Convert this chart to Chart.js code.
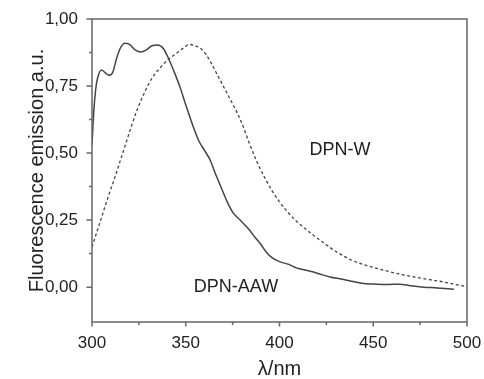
<!DOCTYPE html>
<html>
<head>
<meta charset="utf-8">
<script src="https://cdn.jsdelivr.net/npm/chart.js@4.4.1/dist/chart.umd.min.js"></script>
<style>
  html, body { margin: 0; padding: 0; background: #fff; }
  #wrap { width: 484px; height: 379px; position: relative; }
</style>
</head>
<body>
<div id="wrap"><canvas id="c"></canvas></div>
<script>
// wavelength (nm) and emission values
const aawWavelength = [300, 301, 302, 303, 305, 307, 309, 311, 313, 315, 317.5, 320, 323, 326, 329, 332, 335, 338, 341, 344, 347, 350, 354, 357, 360, 363, 366, 369, 372, 375, 379, 384, 387, 390, 393, 396, 400, 405, 409, 413, 417, 421, 427, 433, 440, 446, 452, 458, 464, 470, 477, 484, 493];
const aawEmission = [0.53, 0.66, 0.74, 0.78, 0.81, 0.80, 0.79, 0.80, 0.85, 0.89, 0.91, 0.905, 0.885, 0.877, 0.885, 0.90, 0.903, 0.89, 0.85, 0.80, 0.745, 0.68, 0.598, 0.545, 0.51, 0.474, 0.42, 0.37, 0.32, 0.28, 0.25, 0.213, 0.185, 0.16, 0.13, 0.11, 0.095, 0.085, 0.072, 0.065, 0.058, 0.05, 0.038, 0.03, 0.02, 0.013, 0.011, 0.01, 0.011, 0.005, 0.0, -0.003, -0.008];

const wWavelength = [300, 303, 306, 309, 312, 315, 318, 321, 324, 327, 330, 333, 336, 340, 345, 349, 352, 355, 358, 361, 364, 367, 370, 373, 376, 380, 384, 388, 392, 396, 400, 404, 408, 412, 416, 420, 425, 429, 434, 438, 445, 452, 459, 466, 473, 480, 487, 493, 500];
const wEmission = [0.15, 0.215, 0.28, 0.345, 0.405, 0.47, 0.535, 0.60, 0.66, 0.71, 0.755, 0.79, 0.815, 0.845, 0.872, 0.893, 0.905, 0.90, 0.89, 0.866, 0.83, 0.79, 0.75, 0.71, 0.67, 0.61, 0.535, 0.467, 0.41, 0.36, 0.318, 0.283, 0.253, 0.228, 0.205, 0.183, 0.158, 0.138, 0.117, 0.102, 0.084, 0.07, 0.057, 0.046, 0.037, 0.028, 0.02, 0.011, 0.002];

const xMajorTicks = [300, 350, 400, 450, 500];
const xMinorTicks = [325, 375, 425, 475];
const yMajorTicks = [0, 0.25, 0.5, 0.75, 1.0];
const yMinorTicks = [0.125, 0.375, 0.625, 0.875];

const AXIS_COLOR = '#666';
const TEXT_COLOR = '#222';
const FONT = 'Liberation Sans, Arial, Helvetica, sans-serif';

const toPoints = (xs, ys) => xs.map((x, i) => ({ x, y: ys[i] }));

// frame + ticks drawn by hand so majors and minors get different lengths
const framePlugin = {
  id: 'frame',
  afterDraw(chart) {
    const { ctx, chartArea: a, scales: { x, y } } = chart;
    ctx.save();
    ctx.strokeStyle = AXIS_COLOR;
    ctx.lineWidth = 1.5;
    ctx.strokeRect(a.left, a.top, a.right - a.left, a.bottom - a.top);
    ctx.beginPath();
    xMajorTicks.forEach(v => { const px = x.getPixelForValue(v); ctx.moveTo(px, a.bottom); ctx.lineTo(px, a.bottom + 4.5); });
    xMinorTicks.forEach(v => { const px = x.getPixelForValue(v); ctx.moveTo(px, a.bottom); ctx.lineTo(px, a.bottom + 3); });
    yMajorTicks.forEach(v => { const py = y.getPixelForValue(v); ctx.moveTo(a.left, py); ctx.lineTo(a.left - 5.5, py); });
    yMinorTicks.forEach(v => { const py = y.getPixelForValue(v); ctx.moveTo(a.left, py); ctx.lineTo(a.left - 3, py); });
    ctx.stroke();

    // curve labels
    ctx.fillStyle = TEXT_COLOR;
    ctx.font = '18px ' + FONT;
    ctx.textAlign = 'center';
    ctx.textBaseline = 'middle';
    ctx.fillText('DPN-W', x.getPixelForValue(432.3), y.getPixelForValue(0.511));
    ctx.fillText('DPN-AAW', x.getPixelForValue(376.8), y.getPixelForValue(0.0));
    ctx.restore();
  }
};

new Chart(document.getElementById('c'), {
  type: 'line',
  data: {
    datasets: [
      {
        label: 'DPN-AAW',
        data: toPoints(aawWavelength, aawEmission),
        borderColor: '#444',
        borderWidth: 1.5,
        pointRadius: 0,
        cubicInterpolationMode: 'monotone',
      },
      {
        label: 'DPN-W',
        data: toPoints(wWavelength, wEmission),
        borderColor: '#444',
        borderWidth: 1.3,
        borderDash: [3, 2.5],
        pointRadius: 0,
        cubicInterpolationMode: 'monotone',
      },
    ],
  },
  options: {
    responsive: true,
    maintainAspectRatio: false,
    animation: false,
    layout: { padding: { left: 0, top: 19, right: 17, bottom: 0 } },
    plugins: { legend: { display: false }, tooltip: { enabled: false } },
    scales: {
      x: {
        type: 'linear',
        min: 300,
        max: 500,
        afterBuildTicks: (s) => { s.ticks = xMajorTicks.map(v => ({ value: v })); },
        afterFit: (s) => { s.height = 57; s.paddingLeft = 0; s.paddingRight = 0; },
        grid: { display: false, drawTicks: false },
        border: { display: false },
        ticks: { color: TEXT_COLOR, font: { size: 17, family: FONT }, padding: 11, maxRotation: 0 },
        title: { display: true, text: 'λ/nm', color: TEXT_COLOR, font: { size: 20, family: FONT, lineHeight: 1 }, padding: { top: 0, bottom: 0 } },
      },
      y: {
        min: -0.13,
        max: 1.0,
        afterBuildTicks: (s) => { s.ticks = yMajorTicks.map(v => ({ value: v })); },
        afterFit: (s) => { s.width = 92; s.paddingTop = 0; s.paddingBottom = 0; },
        grid: { display: false, drawTicks: false },
        border: { display: false },
        ticks: { color: TEXT_COLOR, font: { size: 17, family: FONT }, padding: 14, callback: (v) => v.toFixed(2).replace('.', ',') },
        title: { display: true, text: 'Fluorescence emission a.u.', color: TEXT_COLOR, font: { size: 20, family: FONT, lineHeight: 1.2 }, padding: { top: 25, bottom: 0 } },
      },
    },
  },
  plugins: [framePlugin],
});
</script>
</body>
</html>
